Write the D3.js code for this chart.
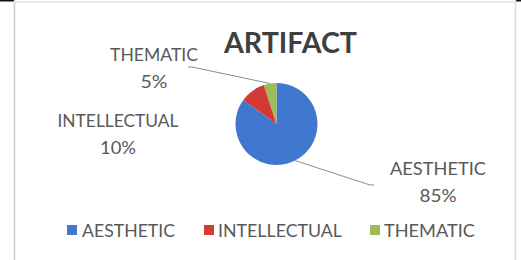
<!DOCTYPE html>
<html>
<head>
<meta charset="utf-8">
<script src="https://cdn.jsdelivr.net/npm/d3@7"></script>
<style>
  body { margin: 0; background: #fff; }
  svg { display: block; }
  text { font-family: Lato, "Open Sans", sans-serif; }
</style>
</head>
<body>
<div id="container"></div>
<script>
/* DATA */
const categories = ["AESTHETIC", "INTELLECTUAL", "THEMATIC"];
const values = [85, 10, 5];
const colors = ["#3f78cf", "#d23b36", "#9dbb59"];
const title = "ARTIFACT";

/* CONSTANTS */
const width = 521, height = 260;
const cx = 276.5, cy = 124, radius = 41;

// where each data label sits (name line baseline, value line baseline, widths)
const labelLayout = {
  AESTHETIC:    { x: 438, y: 175, w: 96, pw: 37, line: [370, 185] },
  INTELLECTUAL: { x: 118, y: 127, w: 121, pw: 36, line: null },
  THEMATIC:     { x: 154, y: 61, w: 88, pw: 27, line: [192, 67] }
};
// legend items: square x, text x, text width
const legendLayout = [
  { sx: 67, tx: 82, w: 93 },
  { sx: 204, tx: 218, w: 124 },
  { sx: 370, tx: 384, w: 91 }
];

const svg = d3.select("#container")
  .append("svg")
  .attr("width", width)
  .attr("height", height);

// frame bits
svg.append("rect").attr("x", 0).attr("y", 0).attr("width", 14).attr("height", 1.5).attr("fill", "#111");
svg.append("rect").attr("x", 516).attr("y", 0).attr("width", 5).attr("height", 1.5).attr("fill", "#111");
svg.append("line").attr("x1", 14.5).attr("x2", 14.5).attr("y1", 0).attr("y2", height)
  .attr("stroke", "#cfcfcf").attr("stroke-width", 1.5);
svg.append("line").attr("x1", 14).attr("x2", 516).attr("y1", 2).attr("y2", 2)
  .attr("stroke", "#e4e4e4").attr("stroke-width", 1.5);
svg.append("line").attr("x1", 515.5).attr("x2", 515.5).attr("y1", 0).attr("y2", height)
  .attr("stroke", "#dcdcdc").attr("stroke-width", 1.5);

// soft edge like the source
const defs = svg.append("defs");
defs.append("filter").attr("id", "soft")
  .append("feGaussianBlur").attr("stdDeviation", 0.7);

/* TITLE */
svg.append("text")
  .attr("x", 224)
  .attr("y", 53)
  .attr("textLength", 133)
  .attr("lengthAdjust", "spacingAndGlyphs")
  .style("font-size", "28px")
  .style("font-weight", "bold")
  .style("fill", "#3f3f3f")
  .text(title);

/* PIE */
const data = categories.map((c, i) => ({ name: c, value: values[i], color: colors[i] }));
const pie = d3.pie().sort(null).value(d => d.value);
const arcs = pie(data);
const arc = d3.arc().innerRadius(0).outerRadius(radius);
const outer = d3.arc().innerRadius(radius).outerRadius(radius);

const g = svg.append("g").attr("transform", `translate(${cx},${cy})`);
g.selectAll("path")
  .data(arcs)
  .join("path")
  .attr("d", arc)
  .attr("fill", d => d.data.color)
  .attr("filter", "url(#soft)");

// leader lines
arcs.forEach(a => {
  const L = labelLayout[a.data.name];
  if (!L.line) return;
  const [px, py] = outer.centroid(a);
  svg.append("polyline")
    .attr("points", [[cx + px, cy + py], L.line, [L.line[0] + (L.line[0] > cx ? 4 : -4), L.line[1]]].join(" "))
    .attr("fill", "none")
    .attr("stroke", "#8c8c8c")
    .attr("stroke-width", 1);
});

// data labels
arcs.forEach(a => {
  const L = labelLayout[a.data.name];
  const t = svg.append("text")
    .attr("text-anchor", "middle")
    .style("font-size", "18px")
    .style("fill", "#595959");
  t.append("tspan").attr("x", L.x).attr("y", L.y)
    .attr("textLength", L.w).attr("lengthAdjust", "spacingAndGlyphs")
    .text(a.data.name);
  t.append("tspan").attr("x", L.x).attr("y", L.y + 27)
    .attr("textLength", L.pw).attr("lengthAdjust", "spacingAndGlyphs")
    .text(a.data.value + "%");
});

/* LEGEND */
const legend = svg.append("g");
data.forEach((d, i) => {
  const lay = legendLayout[i];
  legend.append("rect")
    .attr("x", lay.sx).attr("y", 225)
    .attr("width", 10).attr("height", 10)
    .attr("fill", d.color);
  legend.append("text")
    .attr("x", lay.tx).attr("y", 237)
    .attr("textLength", lay.w).attr("lengthAdjust", "spacingAndGlyphs")
    .style("font-size", "18px")
    .style("fill", "#595959")
    .text(d.name);
});
</script>
</body>
</html>
